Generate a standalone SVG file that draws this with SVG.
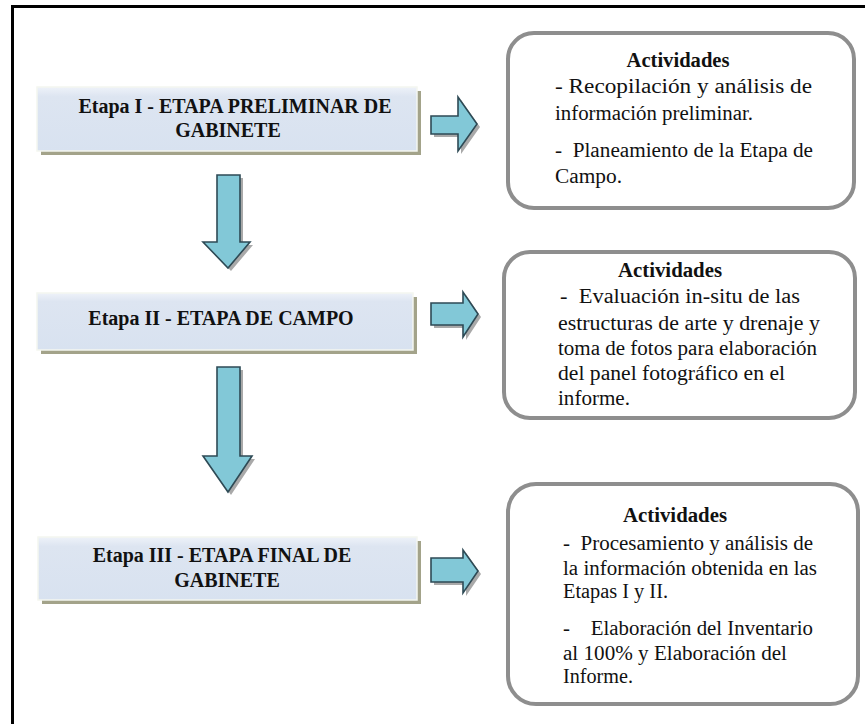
<svg xmlns="http://www.w3.org/2000/svg" width="865" height="724" viewBox="0 0 865 724">
<defs>
<linearGradient id="stageFill" x1="0" y1="0" x2="0" y2="1">
<stop offset="0" stop-color="#eef2f9"/>
<stop offset="0.15" stop-color="#dde5f1"/>
<stop offset="1" stop-color="#d8e2f0"/>
</linearGradient>
</defs>
<style>
.stage{fill:url(#stageFill);stroke:#f4f6f0;stroke-width:1.5}
.stageShadow{fill:#a3a38a}
text{font-family:'Liberation Serif','DejaVu Serif','Times New Roman',serif;fill:#111}
.stxt{font-weight:bold;font-size:20px;text-anchor:middle}
.act{fill:#fff;stroke:#8e8e8e;stroke-width:4}
.hd{font-weight:bold;font-size:20px;text-anchor:middle}
.bt{font-size:20px}
.arr{fill:#82c8d7;stroke:#2e4a55;stroke-width:1.6;stroke-linejoin:miter}
.arrSh{fill:#707070;opacity:0.6}
.frame{stroke:#000;stroke-width:3;fill:none}
</style>
<rect width="865" height="724" fill="#fff"/>
<path class="frame" d="M12.5,724 V6.5 H865"/>

<g id="stage1">
<rect class="stageShadow" x="41" y="91" width="380" height="64"/>
<rect class="stage" x="37" y="87" width="380" height="64"/>
<text class="stxt" x="235" y="113">Etapa I - ETAPA PRELIMINAR DE</text>
<text class="stxt" x="228" y="137">GABINETE</text>
</g>

<g id="stage2">
<rect class="stageShadow" x="41" y="297" width="376" height="57"/>
<rect class="stage" x="37" y="293" width="376" height="57"/>
<text class="stxt" x="221" y="325">Etapa II - ETAPA DE CAMPO</text>
</g>

<g id="stage3">
<rect class="stageShadow" x="42" y="541" width="379" height="63"/>
<rect class="stage" x="38" y="537" width="379" height="63"/>
<text class="stxt" x="222" y="562">Etapa III - ETAPA FINAL DE</text>
<text class="stxt" x="227" y="587">GABINETE</text>
</g>

<g id="act1">
<rect class="act" x="508" y="33" width="346" height="175" rx="26"/>
<text class="hd" x="678" y="67" textLength="103" lengthAdjust="spacingAndGlyphs">Actividades</text>
<text class="bt" x="555" y="93" textLength="257" lengthAdjust="spacingAndGlyphs">- Recopilación y análisis de</text>
<text class="bt" x="555" y="120" textLength="198" lengthAdjust="spacingAndGlyphs">información preliminar.</text>
<text class="bt" x="555" y="157" xml:space="preserve" textLength="258" lengthAdjust="spacingAndGlyphs">-  Planeamiento de la Etapa de</text>
<text class="bt" x="555" y="183" textLength="67" lengthAdjust="spacingAndGlyphs">Campo.</text>
</g>

<g id="act2">
<rect class="act" x="504" y="252" width="351" height="166" rx="26"/>
<text class="hd" x="670" y="277" textLength="104" lengthAdjust="spacingAndGlyphs">Actividades</text>
<text class="bt" x="560" y="303" xml:space="preserve" textLength="240" lengthAdjust="spacingAndGlyphs">-  Evaluación in-situ de las</text>
<text class="bt" x="558" y="330" textLength="262" lengthAdjust="spacingAndGlyphs">estructuras de arte y drenaje y</text>
<text class="bt" x="558" y="355" textLength="259" lengthAdjust="spacingAndGlyphs">toma de fotos para elaboración</text>
<text class="bt" x="558" y="380" textLength="227" lengthAdjust="spacingAndGlyphs">del panel fotográfico en el</text>
<text class="bt" x="558" y="405" textLength="72" lengthAdjust="spacingAndGlyphs">informe.</text>
</g>

<g id="act3">
<rect class="act" x="508" y="484" width="350" height="220" rx="28"/>
<text class="hd" x="675" y="522" textLength="104" lengthAdjust="spacingAndGlyphs">Actividades</text>
<text class="bt" x="563" y="550" xml:space="preserve" textLength="250" lengthAdjust="spacingAndGlyphs">-  Procesamiento y análisis de</text>
<text class="bt" x="563" y="575" textLength="254" lengthAdjust="spacingAndGlyphs">la información obtenida en las</text>
<text class="bt" x="563" y="598" textLength="105" lengthAdjust="spacingAndGlyphs">Etapas I y II.</text>
<text class="bt" x="563" y="635" xml:space="preserve" textLength="250" lengthAdjust="spacingAndGlyphs">-    Elaboración del Inventario</text>
<text class="bt" x="563" y="660" textLength="224" lengthAdjust="spacingAndGlyphs">al 100% y Elaboración del</text>
<text class="bt" x="563" y="683" textLength="70" lengthAdjust="spacingAndGlyphs">Informe.</text>
</g>

<g id="connectors">
<g id="r1">
<path class="arrSh" d="M434,119 H461 V100 L480,127 L461,154 V137 H434 Z"/>
<path class="arr" d="M431,116 H458 V97 L477,124 L458,151 V134 H431 Z"/>
</g>
<g id="r2">
<path class="arrSh" d="M434,306 H466 V295 L481,317 L466,340 V328 H434 Z"/>
<path class="arr" d="M431,303 H463 V292 L478,314 L463,337 V325 H431 Z"/>
</g>
<g id="r3">
<path class="arrSh" d="M434,561 H466 V553 L481,574 L466,596 V585 H434 Z"/>
<path class="arr" d="M431,558 H463 V550 L478,571 L463,593 V582 H431 Z"/>
</g>
<g id="d1">
<path class="arrSh" d="M221,178 H243 V245 H253 L231,271 L206,245 H221 Z"/>
<path class="arr" d="M217,175 H240 V242 H250 L228,268 L203,242 H217 Z"/>
</g>
<g id="d2">
<path class="arrSh" d="M221,370 H243 V459 H255 L231,495 L206,459 H221 Z"/>
<path class="arr" d="M217,367 H240 V456 H252 L228,492 L203,456 H217 Z"/>
</g>
</g>
</svg>
